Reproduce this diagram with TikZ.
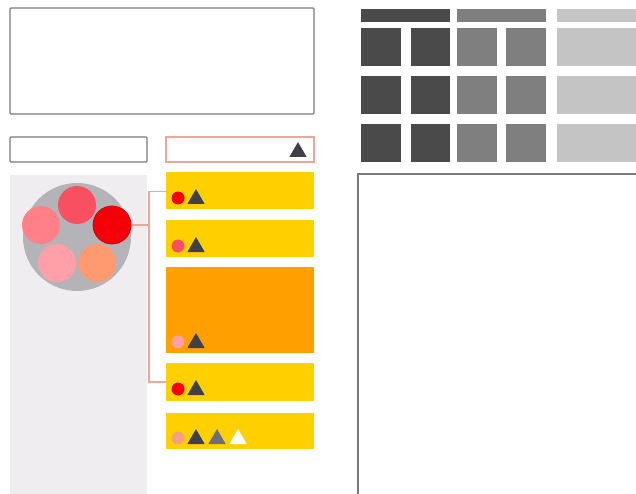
\documentclass[tikz,border=0pt]{standalone}
\usetikzlibrary{calc,shapes.geometric}
\definecolor{frame}{HTML}{7A7A7A}
\definecolor{salmonline}{HTML}{EBA89A}
\definecolor{panelbg}{HTML}{F0EDF0}
\definecolor{ybox}{HTML}{FFD000}
\definecolor{obox}{HTML}{FF9F00}
\definecolor{darktri}{HTML}{404048}
\definecolor{midtri}{HTML}{6E6E7A}
\definecolor{gdark}{HTML}{4A4A4A}
\definecolor{gmid}{HTML}{7F7F7F}
\definecolor{glight}{HTML}{C4C4C4}
\definecolor{bigcirc}{HTML}{B4B4B8}
\definecolor{cA}{HTML}{F85060}
\definecolor{cB}{HTML}{FF8088}
\definecolor{cC}{HTML}{F50008}
\definecolor{cD}{HTML}{FFA0A8}
\definecolor{cE}{HTML}{FF9A70}
\definecolor{cF}{HTML}{F5A080}
\tikzset{
  rect/.style={anchor=north west, inner sep=0pt, outer sep=0pt, rectangle},
  framebox/.style={rect, draw=frame, line width=1.3pt, rounded corners=1pt, fill=white},
  ybx/.style={rect, fill=ybox},
  obx/.style={rect, fill=obox},
  tile/.style={rect, fill=#1},
  dot/.style={circle, inner sep=0pt, outer sep=0pt, minimum size=13pt, fill=#1},
  ball/.style={circle, inner sep=0pt, outer sep=0pt, minimum size=38pt, fill=#1},
  tri/.style={regular polygon, regular polygon sides=3, inner sep=0pt, outer sep=0pt, minimum size=20pt, fill=#1},
  conn/.style={draw=salmonline, line width=1.1pt},
}
\begin{document}
\begin{tikzpicture}[x=1pt,y=-1pt]
\useasboundingbox (0,0) rectangle (636,494);
\fill[white] (0,0) rectangle (636,494);

% top-left box
\node[framebox, minimum width=304pt, minimum height=106pt] (topbox) at (10,8) {};
% small input
\node[framebox, minimum width=137pt, minimum height=25pt] (input) at (10,137) {};
% dropdown
\node[rect, draw=salmonline, line width=1.1pt, fill=white, minimum width=148pt, minimum height=25pt] (drop) at (166,137) {};
\node[tri=darktri] (droptri) at (298,152) {};

% left panel
\node[rect, fill=panelbg, minimum width=137pt, minimum height=320pt] (panel) at (10,175) {};

% circle cluster
\node[circle, fill=bigcirc, minimum size=108pt, inner sep=0pt] (cluster) at (77,237) {};
\node[ball=cA] (b1) at (77,205) {};
\node[ball=cB] (b2) at (41,225) {};
\node[ball=cC, draw=red!85!black, line width=0.8pt] (b3) at (112,225) {};
\node[ball=cD] (b4) at (57,263) {};
\node[ball=cE] (b5) at (97,263) {};

% yellow/orange boxes
\node[ybx, minimum width=148pt, minimum height=37pt] (y1) at (166,172) {};
\node[ybx, minimum width=148pt, minimum height=37pt] (y2) at (166,220) {};
\node[obx, minimum width=148pt, minimum height=86pt] (y3) at (166,267) {};
\node[ybx, minimum width=148pt, minimum height=38pt] (y4) at (166,363) {};
\node[ybx, minimum width=148pt, minimum height=36pt] (y5) at (166,413) {};

% icons
\node[dot=cC] (d1) at (178,198) {};
\node[tri=darktri] (t1) at (196,199) {};
\node[dot=cA] (d2) at (178,246) {};
\node[tri=darktri] (t2) at (196,247) {};
\node[dot=cD] (d3) at (178,342) {};
\node[tri=darktri] (t3) at (196,343) {};
\node[dot=cC] (d4) at (178,389) {};
\node[tri=darktri] (t4) at (196,390) {};
\node[dot=cF] (d5) at (178,438) {};
\node[tri=darktri] (t5a) at (196,439) {};
\node[tri=midtri] (t5b) at (217,439) {};
\node[tri=white] (t5c) at (238,439) {};

% connectors
\coordinate (jn) at (149,225);
\draw[conn] (b3.east) -- (jn);
\draw[conn] (jn) |- ($(y1.west)+(0,1)$);
\draw[conn] (jn) |- (y4.west);

% grid headers
\node[tile=gdark, minimum width=89pt, minimum height=13pt] (h1) at (361,9) {};
\node[tile=gmid, minimum width=89pt, minimum height=13pt] (h2) at (457,9) {};
\node[tile=glight, minimum width=90pt, minimum height=13pt] (h3) at (557,9) {};
% grid tiles
\foreach \r/\yy in {1/28,2/76,3/124}{
  \node[tile=gdark, minimum width=40pt, minimum height=38pt] (g\r a) at (361,\yy) {};
  \node[tile=gdark, minimum width=39pt, minimum height=38pt] (g\r b) at (411,\yy) {};
  \node[tile=gmid, minimum width=40pt, minimum height=38pt] (g\r c) at (457,\yy) {};
  \node[tile=gmid, minimum width=40pt, minimum height=38pt] (g\r d) at (506,\yy) {};
  \node[tile=glight, minimum width=90pt, minimum height=38pt] (g\r e) at (557,\yy) {};
}

% large panel
\node[rect, draw=frame, line width=1.5pt, fill=white, minimum width=300pt, minimum height=340pt] (canvas) at (358,174) {};
\end{tikzpicture}
\end{document}
